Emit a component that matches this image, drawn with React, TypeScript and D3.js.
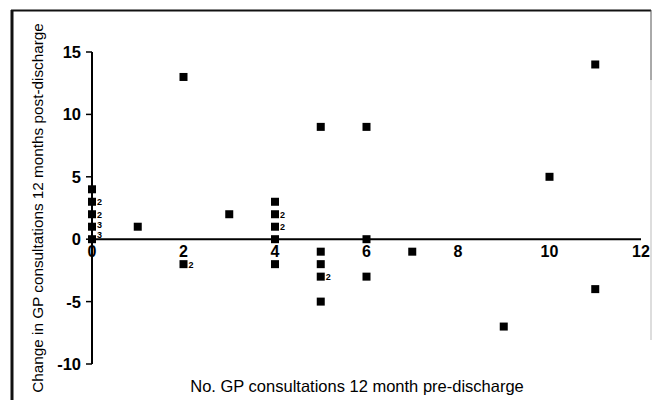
import React, { useEffect, useRef } from 'react';
import * as d3 from 'd3';

// consultations before discharge (x) and change after discharge (y)
const preVisits = [0, 0, 0, 0, 0, 1, 2, 2, 3, 4, 4, 4, 4, 4, 5, 5, 5, 5, 5, 6, 6, 6, 7, 9, 10, 11, 11];
const changeVisits = [4, 3, 2, 1, 0, 1, 13, -2, 2, 3, 2, 1, 0, -2, 9, -1, -2, -3, -5, 9, 0, -3, -1, -7, 5, 14, -4];
// how many patients sit on the same point (1 = no label)
const pointCounts = [1, 2, 2, 3, 3, 1, 1, 2, 1, 1, 2, 2, 1, 1, 1, 1, 1, 2, 1, 1, 1, 1, 1, 1, 1, 1, 1];

const xTicks = [0, 2, 4, 6, 8, 10, 12];
const yTicks = [15, 10, 5, 0, -5, -10];

const xTitle = 'No. GP consultations 12 month pre-discharge';
const yTitle = 'Change in GP consultations 12 months post-discharge';

export default function App() {
  const ref = useRef<SVGSVGElement | null>(null);

  useEffect(() => {
    const width = 652;
    const height = 400;
    const font = '"Liberation Sans", Arial, Helvetica, sans-serif';

    const svg = d3.select(ref.current);
    svg.selectAll('*').remove();
    svg.attr('width', width).attr('height', height);

    const x = d3.scaleLinear().domain([0, 12]).range([92, 641]);
    const y = d3.scaleLinear().domain([-10, 15]).range([364, 52]);

    // frame around the figure (scanned page edges)
    svg.append('line')
      .attr('x1', 12).attr('x2', 12).attr('y1', 10).attr('y2', 400)
      .attr('stroke', '#111').attr('stroke-width', 3);
    svg.append('line')
      .attr('x1', 11).attr('x2', 651).attr('y1', 10.5).attr('y2', 10.5)
      .attr('stroke', '#111').attr('stroke-width', 2);
    svg.append('line')
      .attr('x1', 651).attr('x2', 651).attr('y1', 10).attr('y2', 80)
      .attr('stroke', '#555').attr('stroke-width', 1);
    svg.append('line')
      .attr('x1', 651).attr('x2', 651).attr('y1', 80).attr('y2', 340)
      .attr('stroke', '#bbb').attr('stroke-width', 1);

    // y axis, ticks to the left
    svg.append('line')
      .attr('x1', x(0)).attr('x2', x(0)).attr('y1', y(15)).attr('y2', y(-10))
      .attr('stroke', '#000').attr('stroke-width', 2);
    svg.selectAll('.ytick').data(yTicks).enter().append('line')
      .attr('x1', x(0) - 6).attr('x2', x(0))
      .attr('y1', d => y(d)).attr('y2', d => y(d))
      .attr('stroke', '#000').attr('stroke-width', 1.5);
    svg.selectAll('.ylab').data(yTicks).enter().append('text')
      .attr('x', x(0) - 11)
      .attr('y', d => y(d) + 6)
      .attr('text-anchor', 'end')
      .attr('font-family', font)
      .attr('font-weight', 'bold')
      .attr('font-size', 16.5)
      .text(d => d);

    // x axis along zero
    svg.append('line')
      .attr('x1', x(0)).attr('x2', x(12)).attr('y1', y(0)).attr('y2', y(0))
      .attr('stroke', '#000').attr('stroke-width', 2);
    svg.selectAll('.xlab').data(xTicks).enter().append('text')
      .attr('x', d => x(d))
      .attr('y', y(0) + 18)
      .attr('text-anchor', 'middle')
      .attr('font-family', font)
      .attr('font-weight', 'bold')
      .attr('font-size', 16)
      .text(d => d);

    // points
    const s = 8;
    svg.selectAll('.pt').data(preVisits).enter().append('rect')
      .attr('x', d => x(d) - s / 2)
      .attr('y', (d, i) => y(changeVisits[i]) - s / 2)
      .attr('width', s)
      .attr('height', s)
      .attr('fill', '#000');

    // multiplicity labels (the two lowest on the y axis are nudged up, clear of the x axis)
    const multi = preVisits.map((d, i) => ({ px: d, py: changeVisits[i], n: pointCounts[i] }))
      .filter(d => d.n > 1);
    svg.selectAll('.cnt').data(multi).enter().append('text')
      .attr('x', d => x(d.px) + 5)
      .attr('y', d => y(d.py) + (d.px === 0 && d.py <= 1 ? (d.py === 1 ? 1 : -1) : 3.5))
      .attr('font-family', font)
      .attr('font-weight', 'bold')
      .attr('font-size', 9)
      .text(d => d.n);

    // axis titles
    svg.append('text')
      .attr('x', 357).attr('y', 392)
      .attr('text-anchor', 'middle')
      .attr('font-family', font)
      .attr('font-size', 16.5)
      .text(xTitle);
    svg.append('text')
      .attr('transform', 'translate(43,208) rotate(-90)')
      .attr('text-anchor', 'middle')
      .attr('font-family', font)
      .attr('font-size', 15.3)
      .text(yTitle);
  }, []);

  return (
    <svg ref={ref} style={{ position: 'absolute', left: 0, top: 0, background: '#fff' }}></svg>
  );
}
